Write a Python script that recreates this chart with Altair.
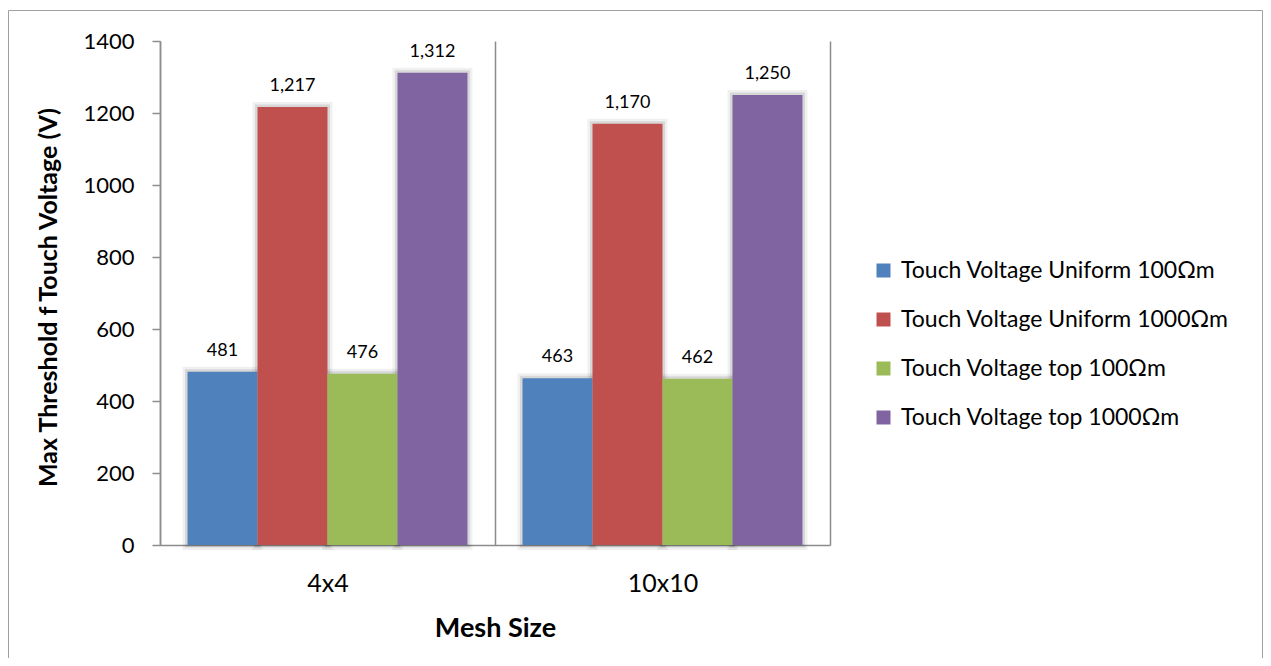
import altair as alt
import pandas as pd

categories = ["4x4", "10x10"]
series = [
    "Touch Voltage Uniform 100Ωm",
    "Touch Voltage Uniform 1000Ωm",
    "Touch Voltage top 100Ωm",
    "Touch Voltage top 1000Ωm",
]
values_4x4 = [481, 1217, 476, 1312]
values_10x10 = [463, 1170, 462, 1250]
colors = ["#4F81BD", "#C0504D", "#9BBB59", "#8064A2"]
y_ticks = [0, 200, 400, 600, 800, 1000, 1200, 1400]

rows = []
for cat, vals in zip(categories, [values_4x4, values_10x10]):
    for s, v in zip(series, vals):
        rows.append({"mesh": cat, "series": s, "value": v})
df = pd.DataFrame(rows)

FONT = "Lato"
GREY = "#8c8c8c"

x_enc = alt.X(
    "mesh:N",
    sort=categories,
    scale=alt.Scale(paddingInner=0, paddingOuter=0),
    axis=alt.Axis(
        title="Mesh Size",
        titleFont=FONT,
        titleFontSize=27,
        titleFontWeight="bold",
        titleColor="black",
        titlePadding=19,
        labelFont=FONT,
        labelFontSize=25,
        labelColor="black",
        labelPadding=26,
        labelAngle=0,
        ticks=False,
        tickBand="extent",
        grid=True,
        gridColor=GREY,
        gridWidth=1.5,
        domainColor=GREY,
        domainWidth=1.5,
    ),
)
xoff = alt.XOffset(
    "series:N",
    sort=series,
    scale=alt.Scale(paddingInner=0, paddingOuter=0.393),
)
y_enc = alt.Y(
    "value:Q",
    scale=alt.Scale(domain=[0, 1400], nice=False),
    axis=alt.Axis(
        title="Max Threshold f Touch Voltage (V)",
        titleFont=FONT,
        titleFontSize=25,
        titleFontWeight="bold",
        titleColor="black",
        titlePadding=21,
        titleY=256,
        values=y_ticks,
        format="d",
        labelFont=FONT,
        labelFontSize=22,
        labelColor="black",
        labelPadding=18,
        tickSize=8,
        tickColor=GREY,
        tickWidth=1.5,
        domainColor=GREY,
        domainWidth=1.5,
        grid=False,
    ),
)
color_enc = alt.Color(
    "series:N",
    sort=series,
    scale=alt.Scale(domain=series, range=colors),
    legend=alt.Legend(
        title=None,
        orient="none",
        legendX=712,
        legendY=218,
        labelFont=FONT,
        labelFontSize=23,
        labelColor="black",
        labelLimit=500,
        symbolType="square",
        symbolSize=196,
        symbolStrokeWidth=0,
        rowPadding=25,
        labelOffset=6,
    ),
)

base = alt.Chart(df)

halo1 = base.mark_bar(
    fill="#000000", fillOpacity=0.0, stroke="#000000", strokeOpacity=0.06, strokeWidth=10
).encode(x=x_enc, xOffset=xoff, y=y_enc)
halo2 = base.mark_bar(
    fill="#000000", fillOpacity=0.0, stroke="#000000", strokeOpacity=0.1, strokeWidth=5
).encode(x=x_enc, xOffset=xoff, y=y_enc)

bars = base.mark_bar().encode(
    x=x_enc,
    xOffset=xoff,
    y=y_enc,
    color=color_enc,
)

labels = base.mark_text(
    baseline="bottom", dy=-12, font=FONT, fontSize=18, color="black"
).encode(
    x=x_enc,
    xOffset=xoff,
    y=y_enc,
    text=alt.Text("value:Q", format=",d"),
)

frame = alt.Chart(pd.DataFrame({"a": [0]})).mark_rect(
    fillOpacity=0, stroke="#a0a0a0", strokeWidth=1
).encode(
    x=alt.value(-151.5),
    x2=alt.value(1102.5),
    y=alt.value(-30.5),
    y2=alt.value(700),
)

chart = alt.layer(frame, halo1, halo2, bars, labels).properties(
    width=670,
    height=504,
    autosize=alt.AutoSizeParams(type="none"),
    padding={"left": 152, "top": 33, "right": 433, "bottom": 113},
    background="white",
).configure_view(stroke=None)

chart.save("out.html", embed_options={"renderer": "svg", "actions": False})
